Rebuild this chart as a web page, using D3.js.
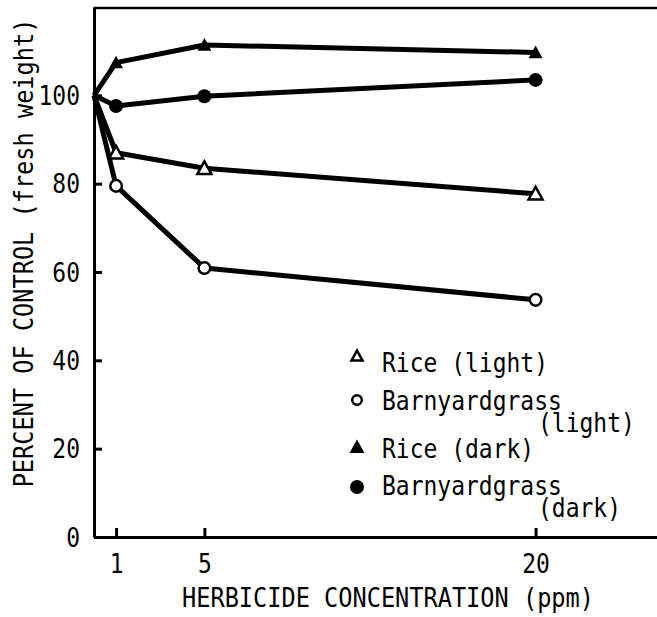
<!DOCTYPE html>
<html>
<head>
<meta charset="utf-8">
<script src="https://cdn.jsdelivr.net/npm/d3@7"></script>
<style>
  html, body { margin: 0; padding: 0; background: #fff; }
  svg { display: block; }
  text { font-family: "DejaVu Sans Mono", "Liberation Mono", monospace; fill: #000; }
</style>
</head>
<body>
<svg id="chart" width="657" height="617"></svg>
<script>
// Herbicide concentration (ppm) and fresh weight as percent of control
const concentrations = [0, 1, 5, 20];
const riceLight = [100, 87, 83.5, 77.7];
const barnyardLight = [100, 79.5, 60.9, 53.7];
const riceDark = [100, 107.4, 111.4, 109.7];
const barnyardDark = [100, 97.6, 99.8, 103.5];

const xTicks = [1, 5, 20];
const yTicks = [0, 20, 40, 60, 80, 100];

const seriesNames = ["Rice (light)", "Barnyardgrass", "Rice (dark)", "Barnyardgrass"];
const seriesNotes = ["", "(light)", "", "(dark)"];

const xTitle = "HERBICIDE CONCENTRATION (ppm)";
const yTitle = "PERCENT OF CONTROL (fresh weight)";

const series = [
  { name: seriesNames[0], note: seriesNotes[0], values: riceLight, shape: "triangle", filled: false },
  { name: seriesNames[1], note: seriesNotes[1], values: barnyardLight, shape: "circle", filled: false },
  { name: seriesNames[2], note: seriesNotes[2], values: riceDark, shape: "triangle", filled: true },
  { name: seriesNames[3], note: seriesNotes[3], values: barnyardDark, shape: "circle", filled: true }
];

const svg = d3.select("#chart");
const W = 657, H = 617;
const STRETCH = 1.15;   // tall, narrow typewriter lettering

const x = d3.scaleLinear().domain([0, 25.5]).range([94, 657]);
const y = d3.scaleLinear().domain([0, 120]).range([537, 7]);

// place a text at (tx, ty) with glyphs stretched vertically about the baseline
function stretched(sel, tx, ty, extra) {
  sel.attr("x", 0).attr("y", 0)
    .attr("transform", `translate(${tx},${ty})${extra || ""} scale(1,${STRETCH})`);
  return sel;
}

// top frame line
svg.append("line")
  .attr("x1", x(0)).attr("x2", W)
  .attr("y1", y(120) + 1).attr("y2", y(120) + 1)
  .attr("stroke", "#000").attr("stroke-width", 2.5);

// y axis: ticks point inward
const yAxis = svg.append("g")
  .attr("transform", `translate(${x(0)},0)`)
  .call(d3.axisLeft(y).tickValues(yTicks).tickSizeInner(-8).tickSizeOuter(0).tickPadding(14).tickFormat(d3.format("d")));
yAxis.select(".domain").attr("stroke-width", 3);
yAxis.selectAll(".tick line").attr("stroke-width", 3);
yAxis.selectAll(".tick text")
  .attr("font-size", 23).attr("font-family", "DejaVu Sans Mono")
  .attr("dy", null)
  .each(function () { stretched(d3.select(this), -14, 9); });

// x axis: ticks point inward, axis runs to the edge
const xAxis = svg.append("g")
  .attr("transform", `translate(0,${y(0)})`)
  .call(d3.axisBottom(x).tickValues(xTicks).tickSizeInner(-9).tickSizeOuter(0).tickPadding(20).tickFormat(d3.format("d")));
xAxis.select(".domain").attr("stroke-width", 3);
xAxis.selectAll(".tick line").attr("stroke-width", 3);
xAxis.selectAll(".tick text")
  .attr("font-size", 23).attr("font-family", "DejaVu Sans Mono")
  .attr("dy", null)
  .each(function () { stretched(d3.select(this), 0, 36); });

// axis titles
stretched(svg.append("text")
  .attr("text-anchor", "middle")
  .attr("font-size", 23.6)
  .text(xTitle), 388, 607);

stretched(svg.append("text")
  .attr("text-anchor", "middle")
  .attr("font-size", 23.6)
  .text(yTitle), 33, 253, " rotate(-90)");

// data lines
const line = d3.line()
  .x((d, i) => x(concentrations[i]))
  .y(d => y(d));

svg.append("g").selectAll("path")
  .data(series)
  .join("path")
  .attr("d", s => line(s.values))
  .attr("fill", "none")
  .attr("stroke", "#000")
  .attr("stroke-width", 5)
  .attr("stroke-linejoin", "round");

// markers
function drawMarker(g, shape, filled, cx, cy, size) {
  if (shape === "circle") {
    g.append("circle")
      .attr("cx", cx).attr("cy", cy)
      .attr("r", filled ? size / 2 : size / 2 - 1.2)
      .attr("fill", filled ? "#000" : "#fff")
      .attr("stroke", "#000")
      .attr("stroke-width", filled ? 0 : 2.5);
  } else {
    const w = size, h = size * 0.9;
    const pts = [[cx, cy - h * 0.55], [cx + w / 2, cy + h * 0.45], [cx - w / 2, cy + h * 0.45]];
    g.append("path")
      .attr("d", "M" + pts.map(p => p.join(",")).join("L") + "Z")
      .attr("fill", filled ? "#000" : "#fff")
      .attr("stroke", "#000")
      .attr("stroke-width", filled ? 0 : 2.5)
      .attr("stroke-linejoin", "miter");
  }
}

const markers = svg.append("g");
series.forEach(s => {
  s.values.forEach((v, i) => {
    if (concentrations[i] === 0) return;
    drawMarker(markers, s.shape, s.filled, x(concentrations[i]), y(v), 14);
  });
});

// legend
const legendRows = [
  { base: 372, sym: 356, size: 11 },
  { base: 410, sym: 400, size: 12 },
  { base: 458, sym: 447, size: 15 },
  { base: 495, sym: 487, size: 14 }
];
const legend = svg.append("g");
series.forEach((s, i) => {
  const r = legendRows[i];
  drawMarker(legend, s.shape, s.filled, 357, r.sym, r.size);
  stretched(legend.append("text").attr("font-size", 23).text(s.name), 382, r.base);
  if (s.note) {
    stretched(legend.append("text").attr("font-size", 23).text(s.note), 538, r.base + 22);
  }
});
</script>
</body>
</html>
